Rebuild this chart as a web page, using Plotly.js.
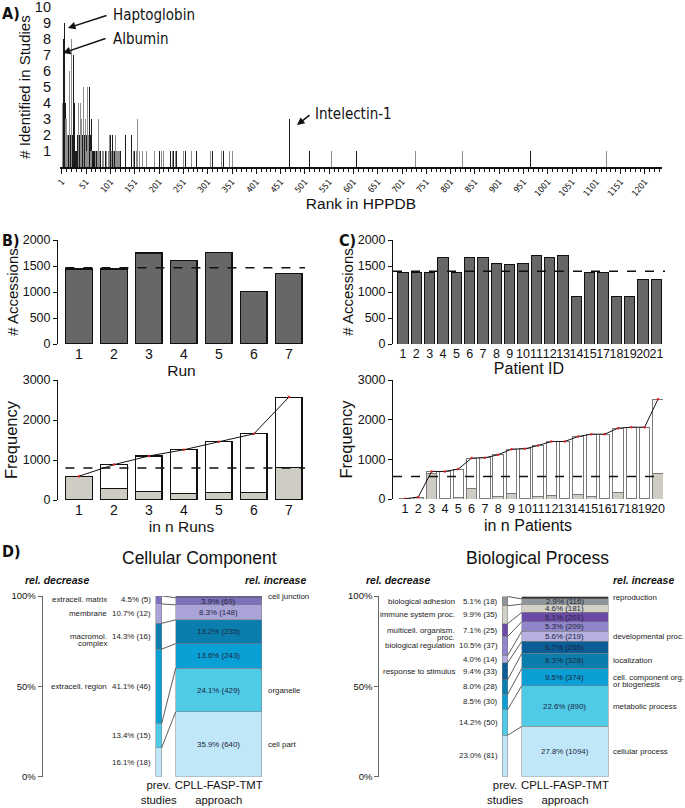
<!DOCTYPE html>
<html><head><meta charset="utf-8">
<script src="https://cdn.plot.ly/plotly-3.0.1.min.js"></script>
<style>html,body{margin:0;padding:0;background:#fff}#chart{width:685px;height:808px}</style>
</head><body><div id="chart"></div>
<script>
// ---------- DATA ----------
// Panel A: rank in HPPDB vs number of studies (dark and gray bars)
const aDarkRank = [4,5,6,7,8,10,12,14,15,18,19,22,23,24,25,26,27,29,31,33,34,37,41,43,44,45,47,48,50,51,53,55,57,58,59,61,63,64,66,68,71,72,75,81,90,100,101,105,109,111,113,115,117,119,121,132,135,144,151,170,201,225,231,236,256,278,311,333,349,469,511,607,948,966];
const aDarkVal  = [8,8,9,8,4,2,1,1,2,1,2,2,1,7,6,4,2,1,1,2,1,2,2,1,2,1,2,1,1,2,2,1,1,5,2,3,2,1,1,1,3,1,1,1,1,1,2,2,1,1,1,1,1,1,1,2,1,2,1,1,1,1,1,1,1,1,1,1,1,3,1,1,1,1];
const aGrayRank = [1,2,3,9,11,13,16,17,20,21,28,30,32,35,36,38,39,40,42,46,49,52,54,56,60,62,65,67,69,70,73,74,77,79,84,87,93,96,98,99,103,107,112,114,116,118,120,137,141,148,155,157,161,166,175,191,206,210,228,234,240,251,268,307,330,345,352,419,458,556,729,826,1122];
const aGrayVal  = [7,4,4,3,3,2,3,6,8,4,3,2,3,4,4,6,4,4,3,5,3,1,5,2,1,1,2,5,2,1,2,1,3,1,1,1,1,1,3,2,1,1,2,1,1,1,1,1,1,1,1,3,1,1,1,1,1,1,1,1,1,1,1,1,1,1,1,1,1,1,1,1,1];

// Panel B
const runIds = [1,2,3,4,5,6,7];
const runAccessions = [1442,1442,1752,1613,1765,1003,1358];
const runMean = 1465;
const nRuns = [1,2,3,4,5,6,7];
const runFreqTotal = [595,885,1100,1257,1456,1654,2572];
const runFreqGray  = [595,290,207,165,182,182,810];
const runFreqLine = 800;

// Panel C
const patientIds = ['1','2','3','4','5','6','7','8','9','10','11','12','13','14','15','17','18','19','20','21'];
const patientAccessions = [1370,1370,1370,1665,1380,1665,1665,1540,1525,1540,1700,1670,1710,916,1380,1380,916,916,1240,1240];
const patientMean = 1400;
const nPatients = ['1','2','3','4','5','6','7','8','9','10','11','12','13','14','15','16','17','18','19','20'];
const patFreqTotal = [5,50,695,695,754,1031,1039,1115,1257,1265,1349,1450,1450,1575,1634,1634,1785,1810,1810,2514];
const patFreqGray  = [0,50,637,8,50,277,17,67,151,5,75,92,5,126,59,5,168,25,5,654];
const patFreqLine = 570;

// Panel D - Cellular Component
const ccCats = ['cell part','organelle','extracell. region','macromol.<br>complex','membrane','extracell. matrix','cell junction'];
const ccPrevPct = [16.1,13.4,41.1,14.3,10.7,4.5,null];
const ccPrevN   = [18,15,46,16,12,5,null];
const ccNewPct  = [35.9,24.1,13.6,13.2,8.3,3.9,1.0];
const ccNewN    = [640,429,243,235,148,69,null];
const ccColors  = ['#c0e7f8','#4fcbe8','#0a9fd5','#0b7eae','#aaa3d8','#7d71bb','#56479b'];

// Panel D - Biological Process
const bpCats = ['cellular process','metabolic process','cell. component org.<br>or biogenesis','localization','response to stimulus','developmental proc.','biological regulation','multicell. organism.<br>proc.','immune system proc.','biological adhesion','reproduction'];
const bpPrevPct = [23.0,14.2,8.5,8.0,9.4,4.0,10.5,7.1,9.9,5.1,null];
const bpPrevN   = [81,50,30,28,33,14,37,25,35,18,null];
const bpNewPct  = [27.8,22.6,9.5,8.3,6.7,5.6,5.3,5.1,4.6,2.9,1.2];
const bpNewN    = [1094,890,374,328,265,219,209,201,181,116,null];
const bpColors  = ['#c0e7f8','#4fcbe8','#0a9fd5','#0b7eae','#0b5d98','#b6b0e1','#8f85c8','#6a4aa6','#d3d0c6','#8d959b','#333333'];

const dGroups = ['prev.<br>studies','CPLL-FASP-TMT<br>approach'];

// ---------- LAYOUT HELPERS ----------
const W = 685, H = 808;
const X = px => px / W;
const Y = py => 1 - py / H;
const FONT = 'Liberation Sans, Arial, Helvetica, sans-serif';
const NARROW = 'Liberation Sans Narrow, DejaVu Sans Condensed, Arial Narrow, sans-serif';

const traces = [];
const annotations = [];
const shapes = [];

// ---- Panel A ----
traces.push({type:'bar', x:aDarkRank, y:aDarkVal, xaxis:'x', yaxis:'y', width:1.7,
  marker:{color:'#1c1c1c', line:{width:0}}, hoverinfo:'skip'});
traces.push({type:'bar', x:aGrayRank, y:aGrayVal, xaxis:'x', yaxis:'y', width:1.7,
  marker:{color:'#8e8e8e', line:{width:0}}, hoverinfo:'skip'});

// ---- Panel B top ----
traces.push({type:'bar', x:runIds, y:runAccessions, xaxis:'x2', yaxis:'y2', width:0.75,
  marker:{color:'#676767', line:{color:'#111', width:1.2}}});
// ---- Panel B bottom ----
traces.push({type:'bar', x:nRuns, y:runFreqGray, xaxis:'x3', yaxis:'y3', width:0.75,
  marker:{color:'#cfccc4', line:{color:'#111', width:1.2}}});
traces.push({type:'bar', x:nRuns, y:runFreqTotal.map((t,i)=>t-runFreqGray[i]), xaxis:'x3', yaxis:'y3', width:0.75,
  marker:{color:'#ffffff', line:{color:'#111', width:1.2}}});
traces.push({type:'scatter', mode:'lines+markers', x:nRuns, y:runFreqTotal, xaxis:'x3', yaxis:'y3',
  line:{color:'#111', width:1}, marker:{color:'#d22', size:2.5}});

// ---- Panel C top ----
traces.push({type:'bar', x:patientIds, y:patientAccessions, xaxis:'x4', yaxis:'y4', width:0.78,
  marker:{color:'#676767', line:{color:'#111', width:1}}});
// ---- Panel C bottom ----
traces.push({type:'bar', x:nPatients, y:patFreqGray, xaxis:'x5', yaxis:'y5', width:0.78,
  marker:{color:'#cfccc4', line:{color:'#7a7a7a', width:1}}});
traces.push({type:'bar', x:nPatients, y:patFreqTotal.map((t,i)=>t-patFreqGray[i]), xaxis:'x5', yaxis:'y5', width:0.78,
  marker:{color:'#ffffff', line:{color:'#7a7a7a', width:1}}});
traces.push({type:'scatter', mode:'lines+markers', x:nPatients, y:patFreqTotal, xaxis:'x5', yaxis:'y5',
  line:{color:'#111', width:1}, marker:{color:'#d22', size:2.5}});

// ---- Panel D ----
const DFS = 7.9;
function buildD(xr, yr, cats, prevPct, prevN, newPct, newN, colors, prevW, newW, nameLeftX, pctLeftX, nameRightX){
  for (let i=0;i<cats.length;i++){
    traces.push({type:'bar', x:[0,1], y:[prevPct[i], newPct[i]], width:[prevW,newW], xaxis:xr, yaxis:yr,
      marker:{color:colors[i], line:{color:'#7d7d7d', width:0.5}}, hoverinfo:'skip'});
  }
  let cp=0, cn=0; const lx=[], ly=[];
  const fmt = (p,n) => p.toFixed(1) + '% (' + n + ')';
  for (let i=0;i<cats.length;i++){
    const p0=cp, n0=cn;
    cp += (prevPct[i]||0); cn += (newPct[i]||0);
    if (prevPct[i]!=null && newPct[i]!=null){ lx.push(prevW/2, 1-newW/2, null); ly.push(cp, cn, null); }
    const pm=(p0+cp)/2, nm=(n0+cn)/2;
    const sm = {family:FONT, size:DFS, color:'#222'};
    if (prevPct[i]!=null){
      annotations.push({xref:xr, yref:yr, x:pctLeftX, y:pm, text:fmt(prevPct[i],prevN[i]), showarrow:false, xanchor:'right', yanchor:'middle', font:sm});
    }
    if (newN[i]!=null){
      annotations.push({xref:xr, yref:yr, x:1, y:nm, text:fmt(newPct[i],newN[i]), showarrow:false, xanchor:'center', yanchor:'middle', font:{family:FONT,size:DFS,color:'#1c2740'}});
    }
    const lines = cats[i].split('<br>');
    const right = (prevPct[i]==null) || (newPct[i] > prevPct[i]);
    lines.forEach((t,k)=>{
      annotations.push({xref:xr, yref:yr, x: right? nameRightX : nameLeftX, y: right? nm : pm, text:t, showarrow:false,
        xanchor: right?'left':'right', yanchor:'middle', yshift:-k*7.5, font:sm});
    });
  }
  traces.push({type:'scatter', mode:'lines', x:lx, y:ly, xaxis:xr, yaxis:yr, line:{color:'#333', width:0.8}, hoverinfo:'skip'});
}
buildD('x6','y6', ccCats, ccPrevPct, ccPrevN, ccNewPct, ccNewN, ccColors, 0.1, 1.433, -0.83, -0.09, 1.79);
buildD('x7','y7', bpCats, bpPrevPct, bpPrevN, bpNewPct, bpNewN, bpColors, 0.09, 1.44, -0.8, -0.09, 1.76);

// ---- Shapes: dashed reference lines ----
shapes.push({type:'line', xref:'x2 domain', x0:0.03, x1:1, yref:'y2', y0:runMean, y1:runMean, line:{color:'#111', width:1.5, dash:'dash'}});
shapes.push({type:'line', xref:'x3 domain', x0:0.03, x1:1, yref:'y3', y0:runFreqLine, y1:runFreqLine, line:{color:'#111', width:1.5, dash:'dash'}});
shapes.push({type:'line', xref:'x4 domain', x0:0.0, x1:1, yref:'y4', y0:patientMean, y1:patientMean, line:{color:'#111', width:1.5, dash:'dash'}});
shapes.push({type:'line', xref:'x5 domain', x0:0.0, x1:1, yref:'y5', y0:patFreqLine, y1:patFreqLine, line:{color:'#111', width:1.5, dash:'dash'}});

// ---- Text annotations ----
const letter = {family:NARROW, size:16, color:'#111'};
annotations.push({xref:'paper', yref:'paper', x:X(0), y:Y(13), text:'<b>A)</b>', showarrow:false, xanchor:'left', yanchor:'middle', font:letter});
annotations.push({xref:'paper', yref:'paper', x:X(0), y:Y(240), text:'<b>B)</b>', showarrow:false, xanchor:'left', yanchor:'middle', font:letter});
annotations.push({xref:'paper', yref:'paper', x:X(337), y:Y(240), text:'<b>C)</b>', showarrow:false, xanchor:'left', yanchor:'middle', font:letter});
annotations.push({xref:'paper', yref:'paper', x:X(0), y:Y(551), text:'<b>D)</b>', showarrow:false, xanchor:'left', yanchor:'middle', font:letter});

const lab = {family:NARROW, size:15, color:'#111'};
annotations.push({xref:'paper', yref:'paper', x:X(111), y:Y(15), text:'Haptoglobin', showarrow:false, xanchor:'left', yanchor:'middle', font:lab});
annotations.push({xref:'paper', yref:'paper', x:X(111), y:Y(39), text:'Albumin', showarrow:false, xanchor:'left', yanchor:'middle', font:lab});
annotations.push({xref:'paper', yref:'paper', x:X(313), y:Y(114), text:'Intelectin-1', showarrow:false, xanchor:'left', yanchor:'middle', font:lab});
const arr = {showarrow:true, arrowhead:2, arrowsize:1, arrowwidth:1.5, arrowcolor:'#111', standoff:0, text:'', xref:'paper', yref:'paper', axref:'pixel', ayref:'pixel'};
annotations.push(Object.assign({}, arr, {x:X(68), y:Y(28), ax:40, ay:-13}));
annotations.push(Object.assign({}, arr, {x:X(63), y:Y(53), ax:44, ay:-15}));
annotations.push(Object.assign({}, arr, {x:X(297), y:Y(125), ax:14, ay:-11}));

annotations.push({xref:'paper', yref:'paper', x:X(199), y:Y(558), text:'Cellular Component', showarrow:false, xanchor:'center', yanchor:'middle', font:{family:FONT, size:17.5, color:'#111'}});
annotations.push({xref:'paper', yref:'paper', x:X(537), y:Y(558), text:'Biological Process', showarrow:false, xanchor:'center', yanchor:'middle', font:{family:FONT, size:17.5, color:'#111'}});
const rel = {family:FONT, size:10.5, color:'#111'};
[[57,'rel. decrease'],[275,'rel. increase'],[398,'rel. decrease'],[643,'rel. increase']].forEach(([px,t])=>{
  annotations.push({xref:'paper', yref:'paper', x:X(px), y:Y(580), text:'<b><i>'+t+'</i></b>', showarrow:false, xanchor:'center', yanchor:'middle', font:rel});
});

// ---------- AXES ----------
const tickF = s => ({family:FONT, size:s, color:'#111'});
const ttl = (t, s, st) => ({text:t, font:{family:FONT, size:s, color:'#111'}, standoff:st});
const baseY = {showgrid:false, zeroline:false, showline:true, linecolor:'#111', linewidth:1, ticks:'outside', ticklen:4, tickcolor:'#111', ticklabeloverflow:'allow'};
const baseXcat = {showgrid:false, zeroline:false, showline:false, ticks:'', tickangle:0, ticklabeloverflow:'allow'};

const layout = {
  width:W, height:H, margin:{l:0,r:0,t:0,b:0}, showlegend:false, barmode:'stack',
  paper_bgcolor:'#fff', plot_bgcolor:'rgba(0,0,0,0)', font:{family:FONT, color:'#111'},
  xaxis:{domain:[X(60),X(662)], anchor:'y', range:[-3,1236], tickmode:'linear', tick0:1, dtick:50,
    ticks:'outside', ticklen:5, tickcolor:'#111', showline:true, linecolor:'#111', linewidth:1.5,
    tickangle:-50, tickfont:{family:NARROW, size:8.5, color:'#111'}, showgrid:false, zeroline:false,
    ticklabeloverflow:'allow',
    minor:{tick0:1, dtick:10, ticks:'outside', ticklen:3, tickcolor:'#111'},
    title:ttl('Rank in HPPDB', 15.5, 0)},
  yaxis:{domain:[Y(167),Y(7)], anchor:'x', range:[0,10], tickmode:'array', tickvals:[1,2,3,4,5,6,7,8,9,10],
    showline:false, ticks:'', showgrid:false, zeroline:false, tickfont:tickF(14.5), ticklabelstandoff:8,
    ticklabeloverflow:'allow', title:ttl('# Identified in Studies', 15, 0)},

  xaxis2:Object.assign({}, baseXcat, {domain:[X(58),X(305)], anchor:'y2', range:[0.4,7.46], tickmode:'array', tickvals:runIds, tickfont:tickF(14), title:ttl('Run', 15.5, 0)}),
  yaxis2:Object.assign({}, baseY, {domain:[Y(344),Y(240)], anchor:'x2', range:[0,2000], dtick:500, tickfont:tickF(12.5), title:ttl('# Accessions', 15, 0)}),

  xaxis3:Object.assign({}, baseXcat, {domain:[X(58),X(305)], anchor:'y3', range:[0.4,7.46], tickmode:'array', tickvals:nRuns, tickfont:tickF(14), title:ttl('in n Runs', 15.5, 0)}),
  yaxis3:Object.assign({}, baseY, {domain:[Y(500),Y(380)], anchor:'x3', range:[0,3000], dtick:1000, tickfont:tickF(12.5), title:ttl('Frequency', 16.5, 0)}),

  xaxis4:Object.assign({}, baseXcat, {domain:[X(393),X(665)], anchor:'y4', type:'category', range:[-0.75,19.64], tickmode:'array', tickvals:patientIds, tickfont:tickF(12.5), title:ttl('Patient ID', 16, 0)}),
  yaxis4:Object.assign({}, baseY, {domain:[Y(344),Y(240)], anchor:'x4', range:[0,2000], dtick:500, tickfont:tickF(12.5), title:ttl('# Accessions', 15, 0)}),

  xaxis5:Object.assign({}, baseXcat, {domain:[X(393),X(663)], anchor:'y5', type:'category', range:[-0.9,19.38], tickmode:'array', tickvals:nPatients, tickfont:tickF(12.5), title:ttl('in n Patients', 16, 5)}),
  yaxis5:Object.assign({}, baseY, {domain:[Y(499),Y(380)], anchor:'x5', range:[0,3000], dtick:1000, tickfont:tickF(12.5), title:ttl('Frequency', 16.5, 0)}),

  xaxis6:Object.assign({}, baseXcat, {domain:[X(42.7),X(340)], anchor:'y6', range:[-1.933,3.022], tickmode:'array', tickvals:[0,1], ticktext:dGroups, tickfont:tickF(11.3)}),
  yaxis6:Object.assign({}, baseY, {domain:[Y(776.7),Y(596)], anchor:'x6', range:[0,100], tickmode:'array', tickvals:[0,50,100], ticktext:['0%','50%','100%'], linecolor:'#666', tickcolor:'#666', tickfont:tickF(9.5)}),

  xaxis7:Object.assign({}, baseXcat, {domain:[X(379.3),X(683)], anchor:'y7', range:[-2.095,2.967], tickmode:'array', tickvals:[0,1], ticktext:dGroups, tickfont:tickF(11.3)}),
  yaxis7:Object.assign({}, baseY, {domain:[Y(776.7),Y(596)], anchor:'x7', range:[0,100], tickmode:'array', tickvals:[0,50,100], ticktext:['0%','50%','100%'], linecolor:'#666', tickcolor:'#666', tickfont:tickF(9.5)}),

  shapes:shapes, annotations:annotations
};

Plotly.newPlot('chart', traces, layout, {displayModeBar:false, staticPlot:true});
</script></body></html>
